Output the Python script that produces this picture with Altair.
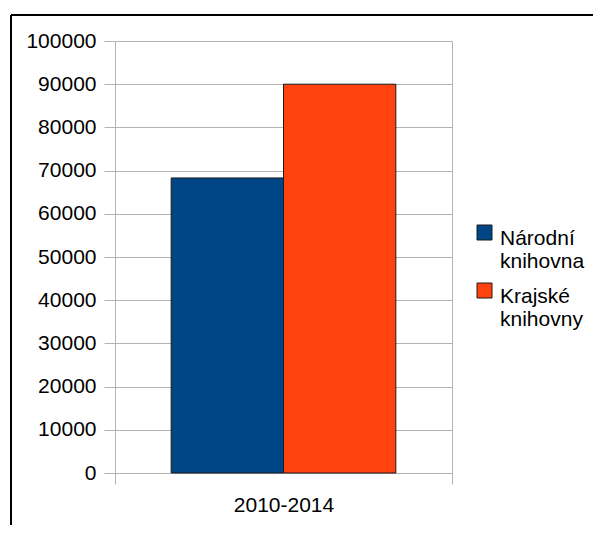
import altair as alt
import pandas as pd

categories = ["2010-2014", "2010-2014"]
series = ["Národní knihovna", "Krajské knihovny"]
values = [68300, 90000]
colors = ["#004586", "#ff420e"]
y_ticks = [0, 10000, 20000, 30000, 40000, 50000, 60000, 70000, 80000, 90000, 100000]

df = pd.DataFrame({"period": categories, "series": series, "value": values})

FONT = "Liberation Sans"
GRID = "#b3b3b3"

bars = alt.Chart(df).mark_bar(stroke="#1a1a1a", strokeWidth=1).encode(
    x=alt.X("period:N", title=None,
            scale=alt.Scale(paddingInner=0, paddingOuter=0),
            axis=alt.Axis(labelAngle=0, labelFontSize=21, labelFont=FONT, labelColor="black",
                          labelPadding=10, domain=False, ticks=True, tickSize=11,
                          tickColor=GRID, tickBand="extent", grid=True, gridColor=GRID)),
    xOffset=alt.XOffset("series:N", sort=series,
                        scale=alt.Scale(paddingInner=0, paddingOuter=0.5)),
    y=alt.Y("value:Q", title=None,
            scale=alt.Scale(domain=[0, 100000], nice=False),
            axis=alt.Axis(values=y_ticks, format="d", labelFontSize=21, labelFont=FONT,
                          labelColor="black", labelPadding=8, tickSize=11, tickColor=GRID,
                          domain=False, grid=True, gridColor=GRID)),
    color=alt.Color("series:N", sort=series,
                    scale=alt.Scale(domain=series, range=colors),
                    legend=alt.Legend(title=None, orient="none", legendX=359, legendY=176,
                                      symbolType="M-1,-0.333H1V1.667H-1Z", symbolSize=225,
                                      symbolStrokeColor="#1a1a1a", symbolStrokeWidth=1,
                                      labelFontSize=21, labelFont=FONT, labelColor="black",
                                      labelExpr="split(datum.label, ' ')",
                                      labelBaseline="top", labelOffset=5, rowPadding=3)),
)

frame_left = alt.Chart(df).mark_rule(color="black", strokeWidth=2).encode(
    x=alt.value(-104), y=alt.value(-26), y2=alt.value(500))
frame_top = alt.Chart(df).mark_rule(color="black", strokeWidth=2).encode(
    x=alt.value(-104), x2=alt.value(500), y=alt.value(-26))

chart = alt.layer(bars, frame_left, frame_top).properties(
    width=337, height=432,
    padding={"left": 107, "top": 33, "right": 141, "bottom": 52},
    autosize=alt.AutoSizeParams(type="none"),
).configure_view(stroke=GRID).configure(background="white")

chart.save("out.html", embed_options={"renderer": "svg", "actions": False})
